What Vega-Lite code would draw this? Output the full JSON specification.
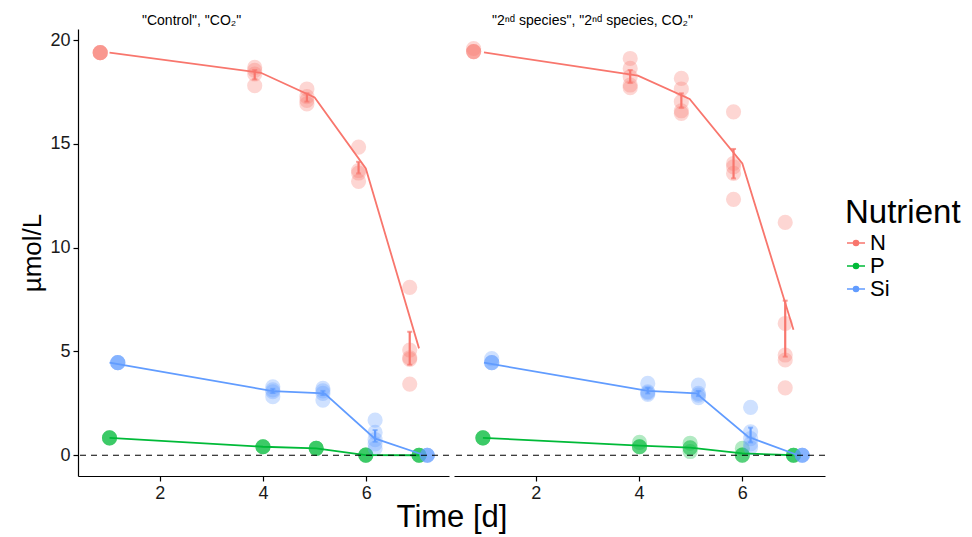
{
  "$schema": "https://vega.github.io/schema/vega-lite/v6.json",
  "background": "white",
  "padding": {"left": 19, "top": 14, "right": 5, "bottom": 2},
  "bounds": "flush",
  "config": {
    "font": "Liberation Sans",
    "view": {"stroke": null},
    "axis": {"grid": false, "domainColor": "black", "domainWidth": 1.2, "tickColor": "black", "tickWidth": 1.2, "tickSize": 5, "labelColor": "#1a1a1a", "labelFontSize": 18, "labelFont": "Liberation Sans", "titleFont": "Liberation Sans", "titleFontSize": 31, "titleFontWeight": "normal", "titleColor": "black", "labelPadding": 3},
    "title": {"font": "Liberation Sans", "fontSize": 14, "fontWeight": "normal", "color": "black", "anchor": "start", "frame": "group"}
  },
  "datasets": {
    "pts": [
      {"panel": "A", "nutrient": "N", "t": 0.85, "v": 19.4},
      {"panel": "A", "nutrient": "N", "t": 0.85, "v": 19.4},
      {"panel": "A", "nutrient": "N", "t": 0.85, "v": 19.4},
      {"panel": "A", "nutrient": "N", "t": 0.85, "v": 19.4},
      {"panel": "A", "nutrient": "N", "t": 3.84, "v": 18.69},
      {"panel": "A", "nutrient": "N", "t": 3.84, "v": 18.55},
      {"panel": "A", "nutrient": "N", "t": 3.84, "v": 18.37},
      {"panel": "A", "nutrient": "N", "t": 3.84, "v": 17.81},
      {"panel": "A", "nutrient": "N", "t": 4.85, "v": 17.65},
      {"panel": "A", "nutrient": "N", "t": 4.85, "v": 17.28},
      {"panel": "A", "nutrient": "N", "t": 4.85, "v": 17.1},
      {"panel": "A", "nutrient": "N", "t": 4.85, "v": 16.93},
      {"panel": "A", "nutrient": "N", "t": 5.85, "v": 14.85},
      {"panel": "A", "nutrient": "N", "t": 5.85, "v": 13.72},
      {"panel": "A", "nutrient": "N", "t": 5.85, "v": 13.6},
      {"panel": "A", "nutrient": "N", "t": 5.85, "v": 13.2},
      {"panel": "A", "nutrient": "N", "t": 6.84, "v": 8.09},
      {"panel": "A", "nutrient": "N", "t": 6.84, "v": 5.07},
      {"panel": "A", "nutrient": "N", "t": 6.84, "v": 4.7},
      {"panel": "A", "nutrient": "N", "t": 6.84, "v": 4.62},
      {"panel": "A", "nutrient": "N", "t": 6.84, "v": 3.43},
      {"panel": "A", "nutrient": "P", "t": 1.03, "v": 0.84},
      {"panel": "A", "nutrient": "P", "t": 1.03, "v": 0.84},
      {"panel": "A", "nutrient": "P", "t": 1.03, "v": 0.84},
      {"panel": "A", "nutrient": "P", "t": 1.03, "v": 0.84},
      {"panel": "A", "nutrient": "P", "t": 4.0, "v": 0.41},
      {"panel": "A", "nutrient": "P", "t": 4.0, "v": 0.41},
      {"panel": "A", "nutrient": "P", "t": 4.0, "v": 0.41},
      {"panel": "A", "nutrient": "P", "t": 4.0, "v": 0.41},
      {"panel": "A", "nutrient": "P", "t": 5.03, "v": 0.33},
      {"panel": "A", "nutrient": "P", "t": 5.03, "v": 0.33},
      {"panel": "A", "nutrient": "P", "t": 5.03, "v": 0.33},
      {"panel": "A", "nutrient": "P", "t": 5.03, "v": 0.33},
      {"panel": "A", "nutrient": "P", "t": 5.99, "v": 0.01},
      {"panel": "A", "nutrient": "P", "t": 5.99, "v": 0.01},
      {"panel": "A", "nutrient": "P", "t": 5.99, "v": 0.01},
      {"panel": "A", "nutrient": "P", "t": 5.99, "v": 0.01},
      {"panel": "A", "nutrient": "P", "t": 7.02, "v": 0},
      {"panel": "A", "nutrient": "P", "t": 7.02, "v": 0},
      {"panel": "A", "nutrient": "P", "t": 7.02, "v": 0},
      {"panel": "A", "nutrient": "P", "t": 7.02, "v": 0},
      {"panel": "A", "nutrient": "Si", "t": 1.19, "v": 4.46},
      {"panel": "A", "nutrient": "Si", "t": 1.19, "v": 4.46},
      {"panel": "A", "nutrient": "Si", "t": 1.19, "v": 4.46},
      {"panel": "A", "nutrient": "Si", "t": 1.19, "v": 4.46},
      {"panel": "A", "nutrient": "Si", "t": 4.19, "v": 3.3},
      {"panel": "A", "nutrient": "Si", "t": 4.19, "v": 3.15},
      {"panel": "A", "nutrient": "Si", "t": 4.19, "v": 3.06},
      {"panel": "A", "nutrient": "Si", "t": 4.19, "v": 2.82},
      {"panel": "A", "nutrient": "Si", "t": 5.16, "v": 3.22},
      {"panel": "A", "nutrient": "Si", "t": 5.16, "v": 3.1},
      {"panel": "A", "nutrient": "Si", "t": 5.16, "v": 2.98},
      {"panel": "A", "nutrient": "Si", "t": 5.16, "v": 2.66},
      {"panel": "A", "nutrient": "Si", "t": 6.17, "v": 1.69},
      {"panel": "A", "nutrient": "Si", "t": 6.17, "v": 1.1},
      {"panel": "A", "nutrient": "Si", "t": 6.17, "v": 0.75},
      {"panel": "A", "nutrient": "Si", "t": 6.17, "v": 0.55},
      {"panel": "A", "nutrient": "Si", "t": 6.17, "v": 0.33},
      {"panel": "A", "nutrient": "Si", "t": 7.18, "v": 0},
      {"panel": "A", "nutrient": "Si", "t": 7.18, "v": 0},
      {"panel": "A", "nutrient": "Si", "t": 7.18, "v": 0},
      {"panel": "A", "nutrient": "Si", "t": 7.18, "v": 0},
      {"panel": "B", "nutrient": "N", "t": 0.8, "v": 19.45},
      {"panel": "B", "nutrient": "N", "t": 0.8, "v": 19.45},
      {"panel": "B", "nutrient": "N", "t": 0.8, "v": 19.45},
      {"panel": "B", "nutrient": "N", "t": 0.8, "v": 19.6},
      {"panel": "B", "nutrient": "N", "t": 3.83, "v": 19.12},
      {"panel": "B", "nutrient": "N", "t": 3.83, "v": 18.64},
      {"panel": "B", "nutrient": "N", "t": 3.83, "v": 18.24},
      {"panel": "B", "nutrient": "N", "t": 3.83, "v": 17.84},
      {"panel": "B", "nutrient": "N", "t": 3.83, "v": 17.71},
      {"panel": "B", "nutrient": "N", "t": 4.82, "v": 18.16},
      {"panel": "B", "nutrient": "N", "t": 4.82, "v": 17.65},
      {"panel": "B", "nutrient": "N", "t": 4.82, "v": 17.04},
      {"panel": "B", "nutrient": "N", "t": 4.82, "v": 16.6},
      {"panel": "B", "nutrient": "N", "t": 4.82, "v": 16.47},
      {"panel": "B", "nutrient": "N", "t": 5.83, "v": 16.55},
      {"panel": "B", "nutrient": "N", "t": 5.83, "v": 14.06},
      {"panel": "B", "nutrient": "N", "t": 5.83, "v": 13.9},
      {"panel": "B", "nutrient": "N", "t": 5.83, "v": 13.58},
      {"panel": "B", "nutrient": "N", "t": 5.83, "v": 12.33},
      {"panel": "B", "nutrient": "N", "t": 6.83, "v": 11.22},
      {"panel": "B", "nutrient": "N", "t": 6.83, "v": 6.35},
      {"panel": "B", "nutrient": "N", "t": 6.83, "v": 4.83},
      {"panel": "B", "nutrient": "N", "t": 6.83, "v": 4.59},
      {"panel": "B", "nutrient": "N", "t": 6.83, "v": 3.25},
      {"panel": "B", "nutrient": "P", "t": 0.98, "v": 0.84},
      {"panel": "B", "nutrient": "P", "t": 0.98, "v": 0.84},
      {"panel": "B", "nutrient": "P", "t": 0.98, "v": 0.84},
      {"panel": "B", "nutrient": "P", "t": 0.98, "v": 0.84},
      {"panel": "B", "nutrient": "P", "t": 4.01, "v": 0.41},
      {"panel": "B", "nutrient": "P", "t": 4.01, "v": 0.41},
      {"panel": "B", "nutrient": "P", "t": 4.01, "v": 0.41},
      {"panel": "B", "nutrient": "P", "t": 4.01, "v": 0.62},
      {"panel": "B", "nutrient": "P", "t": 4.99, "v": 0.36},
      {"panel": "B", "nutrient": "P", "t": 4.99, "v": 0.36},
      {"panel": "B", "nutrient": "P", "t": 4.99, "v": 0.58},
      {"panel": "B", "nutrient": "P", "t": 4.99, "v": 0.18},
      {"panel": "B", "nutrient": "P", "t": 6.0, "v": 0.01},
      {"panel": "B", "nutrient": "P", "t": 6.0, "v": 0.01},
      {"panel": "B", "nutrient": "P", "t": 6.0, "v": 0.01},
      {"panel": "B", "nutrient": "P", "t": 6.0, "v": 0.33},
      {"panel": "B", "nutrient": "P", "t": 6.99, "v": 0},
      {"panel": "B", "nutrient": "P", "t": 6.99, "v": 0},
      {"panel": "B", "nutrient": "P", "t": 6.99, "v": 0},
      {"panel": "B", "nutrient": "P", "t": 6.99, "v": 0},
      {"panel": "B", "nutrient": "Si", "t": 1.15, "v": 4.46},
      {"panel": "B", "nutrient": "Si", "t": 1.15, "v": 4.46},
      {"panel": "B", "nutrient": "Si", "t": 1.15, "v": 4.46},
      {"panel": "B", "nutrient": "Si", "t": 1.15, "v": 4.66},
      {"panel": "B", "nutrient": "Si", "t": 4.17, "v": 3.46},
      {"panel": "B", "nutrient": "Si", "t": 4.17, "v": 3.06},
      {"panel": "B", "nutrient": "Si", "t": 4.17, "v": 3.0},
      {"panel": "B", "nutrient": "Si", "t": 4.17, "v": 2.93},
      {"panel": "B", "nutrient": "Si", "t": 5.15, "v": 3.38},
      {"panel": "B", "nutrient": "Si", "t": 5.15, "v": 2.98},
      {"panel": "B", "nutrient": "Si", "t": 5.15, "v": 2.9},
      {"panel": "B", "nutrient": "Si", "t": 5.15, "v": 2.78},
      {"panel": "B", "nutrient": "Si", "t": 6.16, "v": 2.31},
      {"panel": "B", "nutrient": "Si", "t": 6.16, "v": 1.13},
      {"panel": "B", "nutrient": "Si", "t": 6.16, "v": 0.8},
      {"panel": "B", "nutrient": "Si", "t": 6.16, "v": 0.55},
      {"panel": "B", "nutrient": "Si", "t": 6.16, "v": 0.37},
      {"panel": "B", "nutrient": "Si", "t": 7.16, "v": 0},
      {"panel": "B", "nutrient": "Si", "t": 7.16, "v": 0},
      {"panel": "B", "nutrient": "Si", "t": 7.16, "v": 0},
      {"panel": "B", "nutrient": "Si", "t": 7.16, "v": 0}
    ],
    "lines": [
      {"panel": "A", "nutrient": "N", "t": 1.03, "v": 19.4},
      {"panel": "A", "nutrient": "N", "t": 3.96, "v": 18.43},
      {"panel": "A", "nutrient": "N", "t": 5.0, "v": 17.24},
      {"panel": "A", "nutrient": "N", "t": 5.99, "v": 13.82},
      {"panel": "A", "nutrient": "N", "t": 7.02, "v": 5.15},
      {"panel": "A", "nutrient": "P", "t": 1.03, "v": 0.84},
      {"panel": "A", "nutrient": "P", "t": 4.0, "v": 0.41},
      {"panel": "A", "nutrient": "P", "t": 5.03, "v": 0.33},
      {"panel": "A", "nutrient": "P", "t": 5.99, "v": 0.01},
      {"panel": "A", "nutrient": "P", "t": 7.02, "v": 0},
      {"panel": "A", "nutrient": "Si", "t": 1.03, "v": 4.46},
      {"panel": "A", "nutrient": "Si", "t": 4.19, "v": 3.09},
      {"panel": "A", "nutrient": "Si", "t": 5.19, "v": 2.98},
      {"panel": "A", "nutrient": "Si", "t": 6.16, "v": 0.81},
      {"panel": "A", "nutrient": "Si", "t": 7.13, "v": 0},
      {"panel": "B", "nutrient": "N", "t": 1.0, "v": 19.41},
      {"panel": "B", "nutrient": "N", "t": 3.98, "v": 18.29},
      {"panel": "B", "nutrient": "N", "t": 4.98, "v": 17.17},
      {"panel": "B", "nutrient": "N", "t": 6.0, "v": 14.06},
      {"panel": "B", "nutrient": "N", "t": 6.99, "v": 6.05},
      {"panel": "B", "nutrient": "P", "t": 0.98, "v": 0.84},
      {"panel": "B", "nutrient": "P", "t": 4.01, "v": 0.46},
      {"panel": "B", "nutrient": "P", "t": 4.99, "v": 0.37},
      {"panel": "B", "nutrient": "P", "t": 6.0, "v": 0.09},
      {"panel": "B", "nutrient": "P", "t": 6.99, "v": 0},
      {"panel": "B", "nutrient": "Si", "t": 1.0, "v": 4.46},
      {"panel": "B", "nutrient": "Si", "t": 4.17, "v": 3.1},
      {"panel": "B", "nutrient": "Si", "t": 5.11, "v": 2.98},
      {"panel": "B", "nutrient": "Si", "t": 6.11, "v": 0.89},
      {"panel": "B", "nutrient": "Si", "t": 7.08, "v": 0}
    ],
    "errs": [
      {"panel": "A", "nutrient": "N", "t": 3.84, "lo": 18.11, "hi": 18.56},
      {"panel": "A", "nutrient": "N", "t": 4.85, "lo": 17.04, "hi": 17.44},
      {"panel": "A", "nutrient": "N", "t": 5.85, "lo": 13.58, "hi": 14.14},
      {"panel": "A", "nutrient": "N", "t": 6.84, "lo": 4.36, "hi": 5.95},
      {"panel": "A", "nutrient": "Si", "t": 4.19, "lo": 3.0, "hi": 3.2},
      {"panel": "A", "nutrient": "Si", "t": 5.16, "lo": 2.9, "hi": 3.1},
      {"panel": "A", "nutrient": "Si", "t": 6.17, "lo": 0.65, "hi": 1.21},
      {"panel": "B", "nutrient": "N", "t": 3.83, "lo": 17.95, "hi": 18.56},
      {"panel": "B", "nutrient": "N", "t": 4.82, "lo": 16.75, "hi": 17.44},
      {"panel": "B", "nutrient": "N", "t": 5.83, "lo": 13.34, "hi": 14.76},
      {"panel": "B", "nutrient": "N", "t": 6.83, "lo": 4.75, "hi": 7.45},
      {"panel": "B", "nutrient": "Si", "t": 4.17, "lo": 2.98, "hi": 3.25},
      {"panel": "B", "nutrient": "Si", "t": 5.15, "lo": 2.85, "hi": 3.1},
      {"panel": "B", "nutrient": "Si", "t": 6.16, "lo": 0.62, "hi": 1.33}
    ],
    "zero": [{"v": 0}]
  },
  "spacing": 5,
  "resolve": {"scale": {"color": "shared"}},
  "hconcat": [
    {
      "width": 371,
      "height": 447,
      "title": {"text": "\"Control\", \"CO₂\"", "dx": 64, "offset": 1},
      "layer": [
        {
          "data": {"name": "pts"},
          "transform": [{"filter": "datum.panel === 'A'"}],
          "mark": {"type": "circle", "size": 230, "opacity": 0.3},
          "encoding": {
            "x": {"field": "t", "type": "quantitative", "scale": {"domain": [0.42, 7.6], "nice": false, "zero": false}, "axis": {"values": [2, 4, 6], "title": "Time [d]", "titleX": 373.5, "titleAlign": "center", "titlePadding": 0}},
            "y": {"field": "v", "type": "quantitative", "scale": {"domain": [-1.0, 20.54], "nice": false, "zero": false}, "axis": {"values": [0, 5, 10, 15, 20], "title": "µmol/L", "titlePadding": 4, "titleFontSize": 26}},
            "color": {"field": "nutrient", "type": "nominal", "scale": {"domain": ["N", "P", "Si"], "range": ["#F8766D", "#00BA38", "#619CFF"]}}
          }
        },
        {
          "data": {"name": "lines"},
          "transform": [{"filter": "datum.panel === 'A'"}],
          "mark": {"type": "line", "strokeWidth": 1.8},
          "encoding": {
            "x": {"field": "t", "type": "quantitative", "title": "Time [d]"},
            "y": {"field": "v", "type": "quantitative", "title": "µmol/L"},
            "color": {"field": "nutrient", "type": "nominal", "legend": {
              "title": "Nutrient", "orient": "none", "legendX": 767, "legendY": 168,
              "titleFontSize": 33, "titleFontWeight": "normal", "titleColor": "black", "titleFont": "Liberation Sans",
              "labelFontSize": 22, "labelColor": "black", "labelFont": "Liberation Sans",
              "symbolType": "M-1,0H1M0.28,0A0.28,0.28,0,1,1,-0.28,0A0.28,0.28,0,1,1,0.28,0",
              "symbolSize": 324, "rowPadding": 1, "labelOffset": 3, "titlePadding": 2,
              "encode": {"symbols": {"update": {"stroke": {"scale": "color", "field": "value"}, "fill": {"scale": "color", "field": "value"}, "strokeWidth": {"value": 1.5}, "opacity": {"value": 1}}}}
            }},
            "order": {"field": "t", "type": "quantitative"}
          }
        },
        {
          "data": {"name": "errs"},
          "transform": [{"filter": "datum.panel === 'A'"}],
          "mark": {"type": "errorbar", "ticks": {"size": 5, "thickness": 2}, "thickness": 2.2},
          "encoding": {
            "x": {"field": "t", "type": "quantitative", "title": "Time [d]"},
            "y": {"field": "lo", "type": "quantitative", "title": "µmol/L"},
            "y2": {"field": "hi"},
            "color": {"field": "nutrient", "type": "nominal"}
          }
        },
        {
          "data": {"name": "zero"},
          "mark": {"type": "rule", "color": "black", "strokeDash": [6, 5], "strokeWidth": 1.2},
          "encoding": {"y": {"field": "v", "type": "quantitative", "title": "µmol/L"}}
        }
      ]
    },
    {
      "width": 371,
      "height": 447,
      "title": {"text": "\"2ⁿᵈ species\", \"2ⁿᵈ species, CO₂\"", "dx": 38, "offset": 1},
      "layer": [
        {
          "data": {"name": "pts"},
          "transform": [{"filter": "datum.panel === 'B'"}],
          "mark": {"type": "circle", "size": 230, "opacity": 0.3},
          "encoding": {
            "x": {"field": "t", "type": "quantitative", "scale": {"domain": [0.42, 7.6], "nice": false, "zero": false}, "axis": {"values": [2, 4, 6], "title": null}},
            "y": {"field": "v", "type": "quantitative", "scale": {"domain": [-1.0, 20.54], "nice": false, "zero": false}, "axis": null},
            "color": {"field": "nutrient", "type": "nominal"}
          }
        },
        {
          "data": {"name": "lines"},
          "transform": [{"filter": "datum.panel === 'B'"}],
          "mark": {"type": "line", "strokeWidth": 1.8},
          "encoding": {
            "x": {"field": "t", "type": "quantitative"},
            "y": {"field": "v", "type": "quantitative"},
            "color": {"field": "nutrient", "type": "nominal"},
            "order": {"field": "t", "type": "quantitative"}
          }
        },
        {
          "data": {"name": "errs"},
          "transform": [{"filter": "datum.panel === 'B'"}],
          "mark": {"type": "errorbar", "ticks": {"size": 5, "thickness": 2}, "thickness": 2.2},
          "encoding": {
            "x": {"field": "t", "type": "quantitative"},
            "y": {"field": "lo", "type": "quantitative"},
            "y2": {"field": "hi"},
            "color": {"field": "nutrient", "type": "nominal"}
          }
        },
        {
          "data": {"name": "zero"},
          "mark": {"type": "rule", "color": "black", "strokeDash": [6, 5], "strokeWidth": 1.2},
          "encoding": {"y": {"field": "v", "type": "quantitative"}}
        }
      ]
    }
  ]
}
